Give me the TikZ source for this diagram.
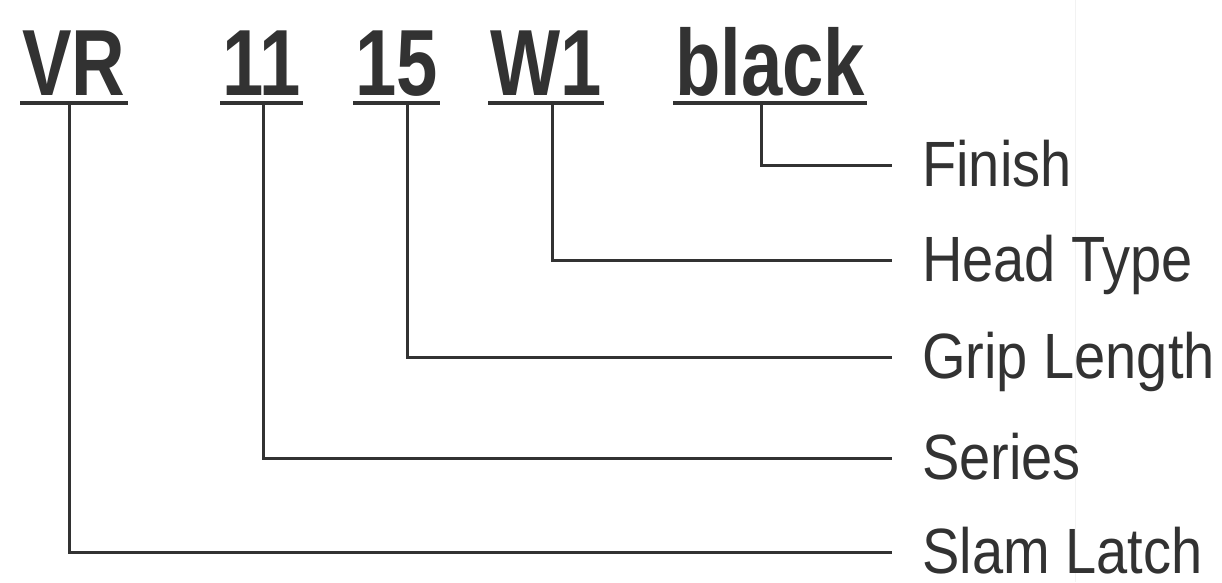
\documentclass[tikz,border=0pt]{standalone}
\usepackage{fontspec}
\setmainfont{Liberation Sans}
\newfontfamily\codefont{Liberation Sans}[FakeStretch=0.79]
\newfontfamily\labfont{Liberation Sans}[FakeStretch=0.875]
\definecolor{ink}{RGB}{50,50,50}
\begin{document}
\begin{tikzpicture}[x=1pt,y=-1pt,
  code/.style={anchor=base west, inner sep=0pt, text=ink,
    font=\codefont\bfseries\fontsize{94}{94}\selectfont},
  lab/.style={anchor=base west, inner sep=0pt, text=ink,
    font=\labfont\fontsize{64}{64}\selectfont},
  uline/.style={line width=4.5pt, draw=ink},
  conn/.style={line width=3pt, draw=ink, line join=miter}]
\useasboundingbox (0,0) rectangle (1222,582);
\fill[white] (0,0) rectangle (1222,582);
\draw[black!5, line width=1pt] (1075,0) -- (1075,582);
% codes
\node[code] (vr)  at (22,95)  {VR};
\node[code] (s11) at (222,95) {11};
\node[code] (s15) at (355,95) {15};
\node[code] (w1)  at (490,95) {W1};
\node[code] (blk) at (675,95) {black};
\foreach \n in {vr,s11,s15,w1,blk}
  \draw[uline] ([xshift=-2pt,yshift=-8pt]\n.base west) -- ([xshift=2pt,yshift=-8pt]\n.base east);
% labels
\node[lab] (fin)  at (922,186) {Finish};
\node[lab] (head) at (922,281) {Head Type};
\node[lab] (grip) at (922,378) {Grip Length};
\node[lab] (ser)  at (922,479) {Series};
\node[lab] (slam) at (922,573) {Slam Latch};
% connectors
\draw[conn] ([xshift=86pt,yshift=-8pt]blk.base west) |- ([xshift=-30pt,yshift=21pt]fin.base west);
\draw[conn] ([xshift=62pt,yshift=-8pt]w1.base west) |- ([xshift=-30pt,yshift=21pt]head.base west);
\draw[conn] ([xshift=52pt,yshift=-8pt]s15.base west) |- ([xshift=-30pt,yshift=21pt]grip.base west);
\draw[conn] ([xshift=41pt,yshift=-8pt]s11.base west) |- ([xshift=-30pt,yshift=21pt]ser.base west);
\draw[conn] ([xshift=47pt,yshift=-8pt]vr.base west) |- ([xshift=-30pt,yshift=21pt]slam.base west);
\end{tikzpicture}
\end{document}
